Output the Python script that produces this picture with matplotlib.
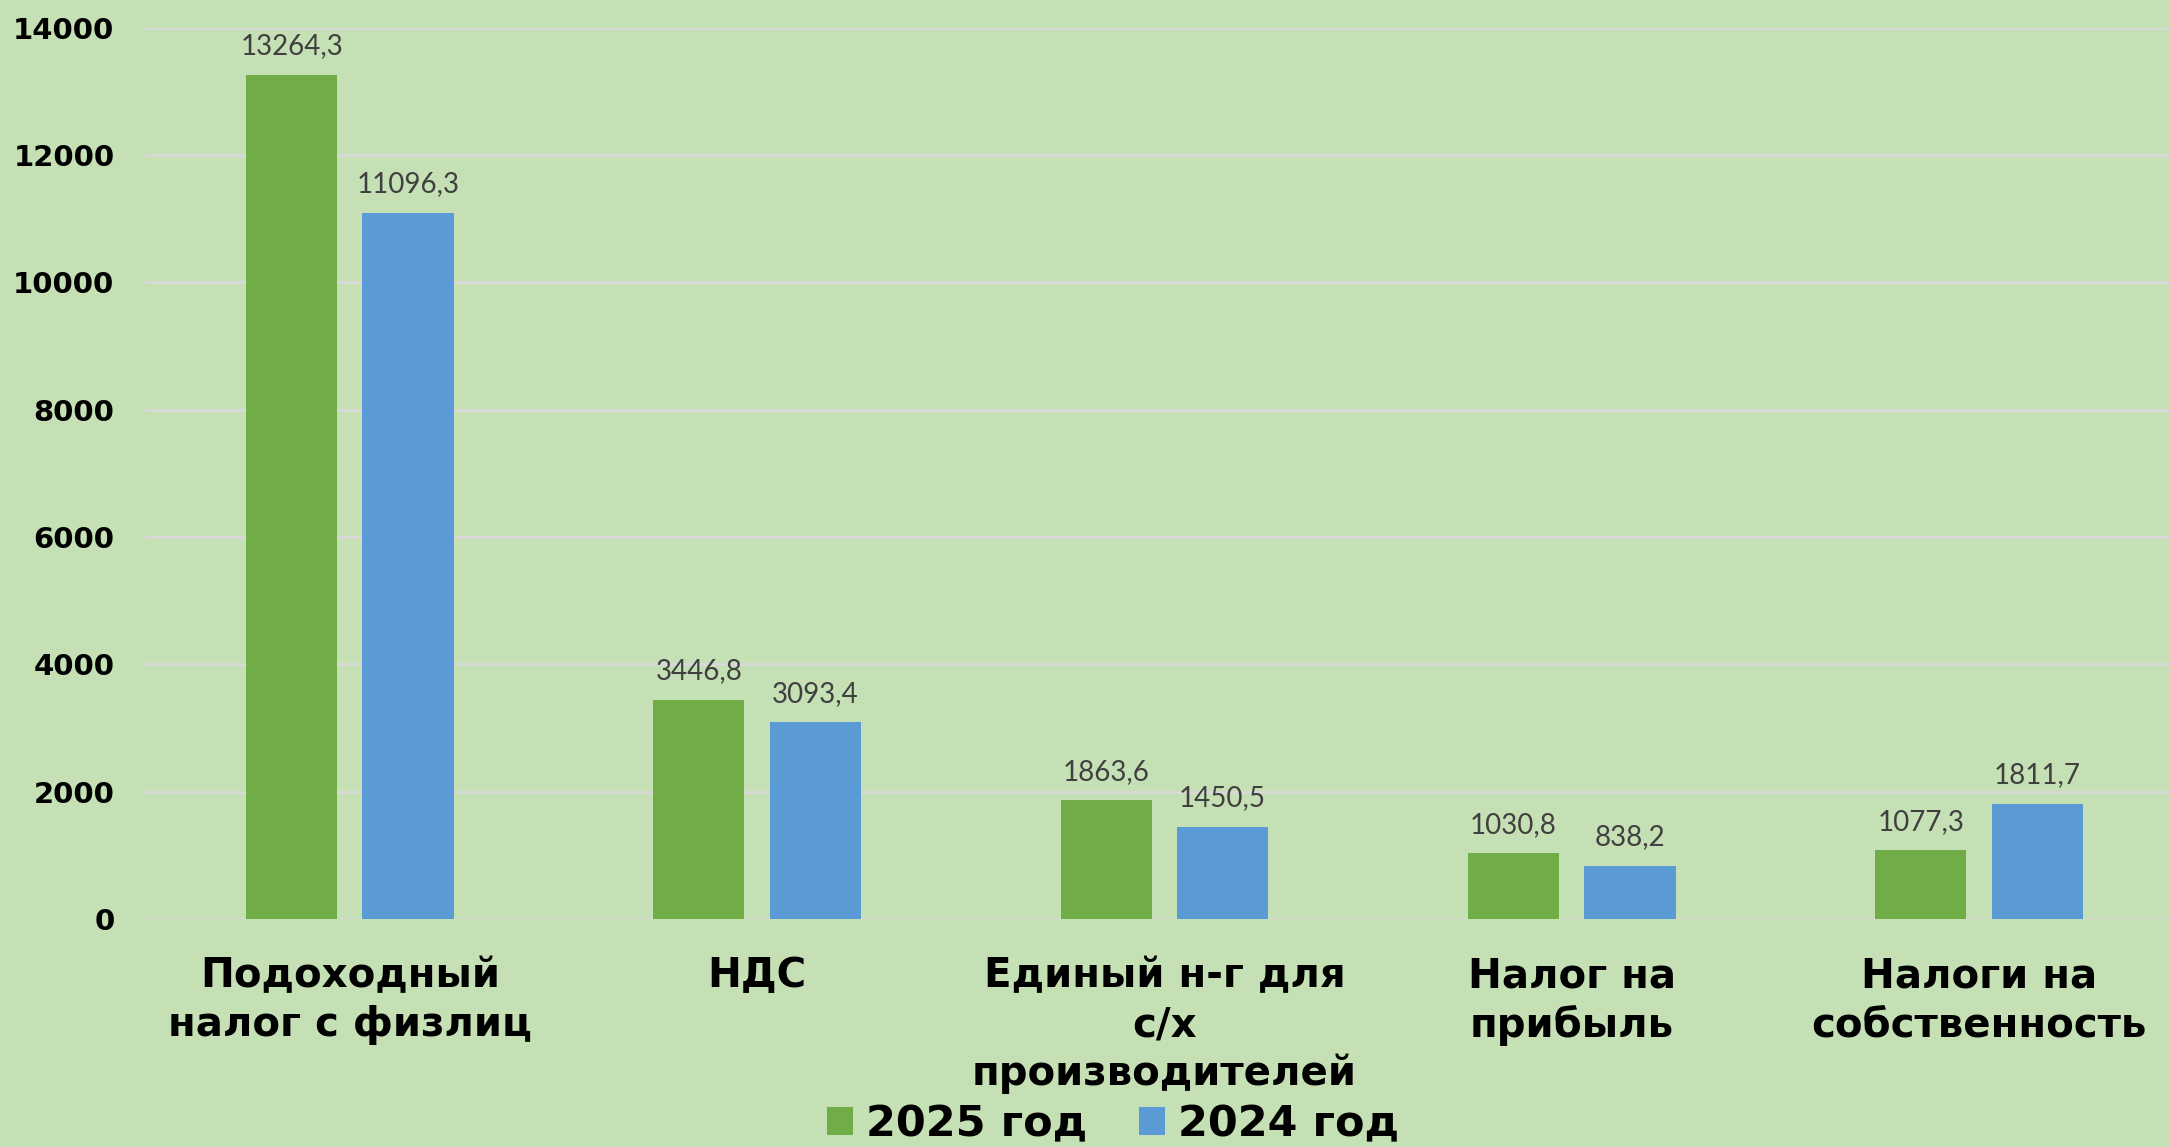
import matplotlib
matplotlib.use('Agg')
import matplotlib.pyplot as plt
import numpy as np

# data
categories = ['Подоходный\nналог с физлиц', 'НДС', 'Единый н-г для\nс/х\nпроизводителей',
              'Налог на\nприбыль', 'Налоги на\nсобственность']
vals_2025 = [13264.3, 3446.8, 1863.6, 1030.8, 1077.3]
vals_2024 = [11096.3, 3093.4, 1450.5, 838.2, 1811.7]
series_names = ['2025 год', '2024 год']
yticks = [0, 2000, 4000, 6000, 8000, 10000, 12000, 14000]

bg = '#C5E0B4'
green = '#70AD47'
blue = '#5B9BD5'

plt.rcParams['font.family'] = ['DejaVu Sans']

fig = plt.figure(figsize=(21.7, 11.47), dpi=100, facecolor=bg)
ax = fig.add_axes([0.0668, 0.1988, 0.9332, 0.777])
ax.set_facecolor(bg)

x = np.arange(len(categories))
w = 0.224
off = 0.143
b1 = ax.bar(x - off, vals_2025, w, color=green, label=series_names[0], zorder=3)
b2 = ax.bar(x + off, vals_2024, w, color=blue, label=series_names[1], zorder=3)

def fmt(v):
    return ('%.1f' % v).replace('.', ',')

for bars, vals in ((b1, vals_2025), (b2, vals_2024)):
    for r, v in zip(bars, vals):
        ax.annotate(fmt(v), (r.get_x() + r.get_width() / 2, v), xytext=(0, 11),
                    textcoords='offset points', ha='center', va='bottom',
                    fontsize=20, color='#404040', family='Lato')

ax.set_xlim(-0.503, 4.469)
ax.set_ylim(0, 14000)
ax.set_yticks(yticks)
ax.set_yticklabels([str(t) for t in yticks], fontsize=21, fontweight='bold')
ax.set_xticks(x)
ax.set_xticklabels(categories, fontsize=29, fontweight='bold', linespacing=1.28)
ax.tick_params(axis='x', length=0, pad=27)
ax.tick_params(axis='y', length=0, pad=22)
ax.grid(axis='y', color='#D9D9D9', linewidth=2, zorder=0)
for s in ax.spines.values():
    s.set_visible(False)

leg = fig.legend(handles=[b1, b2], loc='center', bbox_to_anchor=(0.513, 0.02), ncol=2,
                 frameon=False, prop={'size': 31, 'weight': 'bold'},
                 handlelength=0.6, handleheight=0.6, handletextpad=0.3, columnspacing=1.2)

fig.savefig('out.png', dpi=100, facecolor=bg)
